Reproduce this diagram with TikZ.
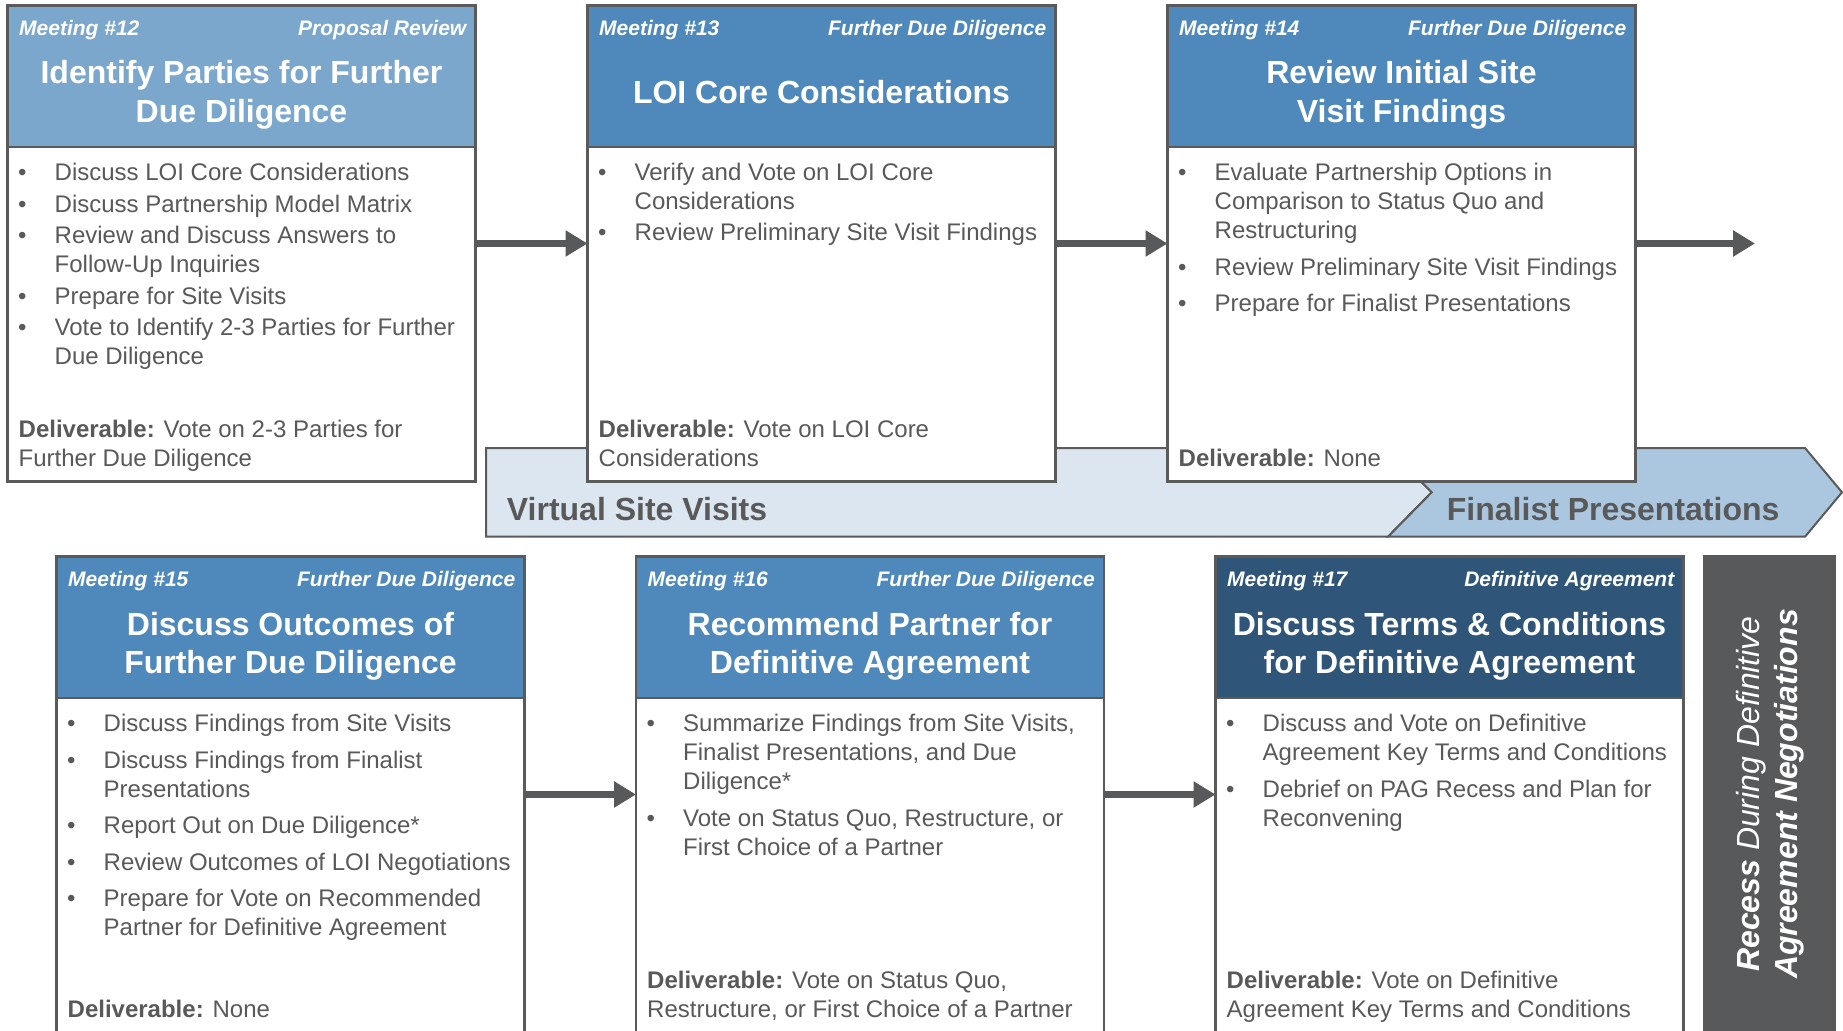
\documentclass[tikz,border=0pt]{standalone}
\usepackage{fontspec}
\setmainfont{Liberation Sans}
\usetikzlibrary{arrows.meta,calc}
\definecolor{edgec}{HTML}{5A5A5A}
\definecolor{txtgray}{HTML}{595959}
\definecolor{hdrlight}{HTML}{7BA7CC}
\definecolor{hdrmid}{HTML}{4F89BB}
\definecolor{hdrdark}{HTML}{2F5578}
\definecolor{vband}{HTML}{DCE6F1}
\definecolor{fband}{HTML}{ABC7E0}
\definecolor{recessc}{HTML}{58595B}
\definecolor{arrowc}{HTML}{58595B}
\newcommand\bulitem{\makebox[37pt][l]{\hspace{0.5pt}\textbullet}}
\newcommand\contind{\hspace*{37pt}}
\tikzset{
  mbox/.style={draw=edgec, line width=2.5pt, fill=white, minimum width=468pt, minimum height=476pt, inner sep=0pt, outer sep=0pt},
  mhdr/.style={draw=edgec, line width=2.5pt, minimum width=468pt, minimum height=141.7pt, inner sep=0pt, outer sep=0pt},
  mlabel/.style={font=\fontsize{21}{25}\selectfont\bfseries\itshape, text=white, inner sep=0pt},
  mtitle/.style={font=\fontsize{32}{38.5}\selectfont\bfseries, text=white, inner sep=0pt, anchor=base},
  mbody/.style={font=\fontsize{24}{29}\selectfont, text=txtgray, inner sep=0pt, anchor=base west},
  conn/.style={draw=arrowc, line width=6.5pt, -{Triangle[length=22pt,width=25pt]}},
  bandpath/.style={draw=edgec, line width=2pt, line join=miter},
  bandtext/.style={font=\fontsize{32}{38}\selectfont\bfseries, text=txtgray, inner sep=0pt, anchor=base west},
  rectext/.style={font=\fontsize{32}{38}\selectfont\itshape, text=white, align=center, inner sep=0pt}
}
\newcommand\mtgbox[5]{%
  \node[mbox, anchor=north west] (b#1) at (#2,#3) {};
  \node[mhdr, fill=#4, anchor=north west] (h#1) at (b#1.north west) {};
  \node[mlabel, anchor=base west] (m#1) at ($(b#1.north west)+(11.5,30)$) {Meeting \##1};
  \node[mlabel, anchor=base east] (p#1) at ($(b#1.north east)+(-9,30)$) {#5};
}
\begin{document}
\begin{tikzpicture}[x=1pt,y=-1pt]
\useasboundingbox (0,0) rectangle (1843,1030);
\clip (0,0) rectangle (1843,1030);
% phase bands
\draw[bandpath, fill=vband] (486,448) -- (1388,448) -- (1431.7,492.3) -- (1388,536.7) -- (486,536.7) -- cycle;
\draw[bandpath, fill=fband] (1388,448) -- (1805,448) -- (1842,492.3) -- (1805,536.7) -- (1388,536.7) -- (1431.7,492.3) -- cycle;
\node[bandtext] (vsv) at (506.7,520) {Virtual Site Visits};
\node[bandtext] (fpr) at (1446.7,520.7) {Finalist Presentations};

% ---------- row 1 ----------
\mtgbox{12}{7.5}{5.5}{hdrlight}{Proposal Review}
\node[mtitle] (t12) at ($(b12.north)+(0,78.5)$) {\parbox[t]{460pt}{\centering Identify Parties for Further\\Due Diligence}};
\node[mbody] (l12) at ($(b12.north west)+(10,175)$) {\parbox[t]{455pt}{%
\bulitem Discuss LOI Core Considerations\\[2.5pt]
\bulitem Discuss Partnership Model Matrix\\[2.5pt]
\bulitem Review and Discuss Answers to\\
\contind Follow-Up Inquiries\\[2.5pt]
\bulitem Prepare for Site Visits\\[2.5pt]
\bulitem Vote to Identify 2-3 Parties for Further\\
\contind Due Diligence}};
\node[mbody] (d12) at ($(b12.north west)+(11,431.5)$) {\parbox[t]{455pt}{\textbf{Deliverable:} Vote on 2-3 Parties for\\Further Due Diligence}};

\mtgbox{13}{587.5}{5.5}{hdrmid}{Further Due Diligence}
\node[mtitle] (t13) at ($(b13.north)+(0,98)$) {LOI Core Considerations};
\node[mbody] (l13) at ($(b13.north west)+(10,175)$) {\parbox[t]{455pt}{%
\bulitem Verify and Vote on LOI Core\\
\contind Considerations\\[2pt]
\bulitem Review Preliminary Site Visit Findings}};
\node[mbody] (d13) at ($(b13.north west)+(11,431.5)$) {\parbox[t]{455pt}{\textbf{Deliverable:} Vote on LOI Core\\Considerations}};

\mtgbox{14}{1167.5}{5.5}{hdrmid}{Further Due Diligence}
\node[mtitle] (t14) at ($(b14.north)+(0,78.5)$) {\parbox[t]{460pt}{\centering Review Initial Site\\Visit Findings}};
\node[mbody] (l14) at ($(b14.north west)+(10,175)$) {\parbox[t]{455pt}{%
\bulitem Evaluate Partnership Options in\\
\contind Comparison to Status Quo and\\
\contind Restructuring\\[7.5pt]
\bulitem Review Preliminary Site Visit Findings\\[7pt]
\bulitem Prepare for Finalist Presentations}};
\node[mbody] (d14) at ($(b14.north west)+(11,460.5)$) {\textbf{Deliverable:} None};

\draw[conn] (b12.east) -- (b13.west);
\draw[conn] (b13.east) -- (b14.west);
\coordinate (e14) at (1755,243.5);
\draw[conn] (b14.east) -- (e14);

% ---------- row 2 ----------
\mtgbox{15}{56.5}{556.5}{hdrmid}{Further Due Diligence}
\node[mtitle] (t15) at ($(b15.north)+(0,78.5)$) {\parbox[t]{460pt}{\centering Discuss Outcomes of\\Further Due Diligence}};
\node[mbody] (l15) at ($(b15.north west)+(10,175)$) {\parbox[t]{455pt}{%
\bulitem Discuss Findings from Site Visits\\[7.5pt]
\bulitem Discuss Findings from Finalist\\
\contind Presentations\\[7.5pt]
\bulitem Report Out on Due Diligence*\\[7.5pt]
\bulitem Review Outcomes of LOI Negotiations\\[7.5pt]
\bulitem Prepare for Vote on Recommended\\
\contind Partner for Definitive Agreement}};
\node[mbody] (d15) at ($(b15.north west)+(11,460.5)$) {\textbf{Deliverable:} None};

\mtgbox{16}{636}{556.5}{hdrmid}{Further Due Diligence}
\node[mtitle] (t16) at ($(b16.north)+(0,78.5)$) {\parbox[t]{460pt}{\centering Recommend Partner for\\Definitive Agreement}};
\node[mbody] (l16) at ($(b16.north west)+(10,175)$) {\parbox[t]{455pt}{%
\bulitem Summarize Findings from Site Visits,\\
\contind Finalist Presentations, and Due\\
\contind Diligence*\\[7.5pt]
\bulitem Vote on Status Quo, Restructure, or\\
\contind First Choice of a Partner}};
\node[mbody] (d16) at ($(b16.north west)+(11,431.5)$) {\parbox[t]{455pt}{\textbf{Deliverable:} Vote on Status Quo,\\Restructure, or First Choice of a Partner}};

\mtgbox{17}{1215.5}{556.5}{hdrdark}{Definitive Agreement}
\node[mtitle] (t17) at ($(b17.north)+(0,78.5)$) {\parbox[t]{460pt}{\centering Discuss Terms \& Conditions\\for Definitive Agreement}};
\node[mbody] (l17) at ($(b17.north west)+(10,175)$) {\parbox[t]{455pt}{%
\bulitem Discuss and Vote on Definitive\\
\contind Agreement Key Terms and Conditions\\[7.5pt]
\bulitem Debrief on PAG Recess and Plan for\\
\contind Reconvening}};
\node[mbody] (d17) at ($(b17.north west)+(11,431.5)$) {\parbox[t]{455pt}{\textbf{Deliverable:} Vote on Definitive\\Agreement Key Terms and Conditions}};

\draw[conn] (b15.east) -- (b16.west);
\draw[conn] (b16.east) -- (b17.west);

% ---------- recess ----------
\node[fill=recessc, minimum width=132.5pt, minimum height=490pt, anchor=north west, inner sep=0pt, outer sep=0pt] (rec) at (1703.3,555) {};
\node[rectext, rotate=90] (rect) at (1770,794) {\textbf{Recess} During Definitive\\\textbf{Agreement Negotiations}};
\end{tikzpicture}
\end{document}
